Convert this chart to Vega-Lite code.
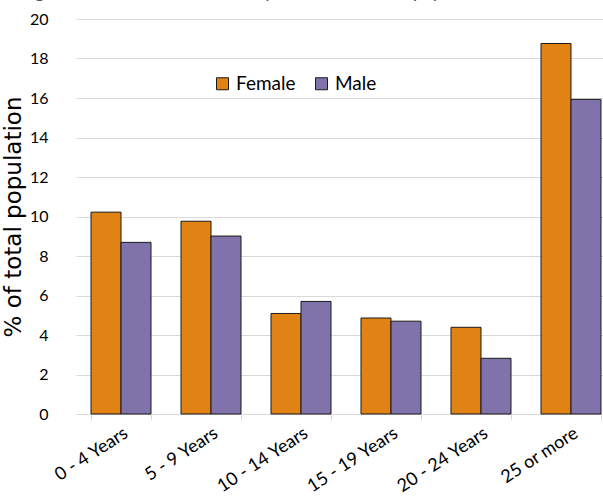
{
  "$schema": "https://vega.github.io/schema/vega-lite/v6.json",
  "width": 527,
  "height": 395,
  "autosize": {"type": "none"},
  "padding": {"left": 76, "top": 19, "right": 0, "bottom": 86},
  "background": "white",
  "title": {
    "text": "Figure 3: Share of children and youth in % of total population",
    "anchor": "start",
    "frame": "group",
    "orient": "top",
    "font": "Lato",
    "fontSize": 19,
    "fontStyle": "italic",
    "fontWeight": "normal",
    "color": "#44546A",
    "dx": -54,
    "dy": -9,
    "offset": 0
  },
  "data": {
    "values": [
      {"age": "0 - 4 Years", "sex": "Female", "pct": 10.22},
      {"age": "0 - 4 Years", "sex": "Male", "pct": 8.69},
      {"age": "5 - 9 Years", "sex": "Female", "pct": 9.76},
      {"age": "5 - 9 Years", "sex": "Male", "pct": 9.01},
      {"age": "10 - 14 Years", "sex": "Female", "pct": 5.09},
      {"age": "10 - 14 Years", "sex": "Male", "pct": 5.7},
      {"age": "15 - 19 Years", "sex": "Female", "pct": 4.86},
      {"age": "15 - 19 Years", "sex": "Male", "pct": 4.7},
      {"age": "20 - 24 Years", "sex": "Female", "pct": 4.39},
      {"age": "20 - 24 Years", "sex": "Male", "pct": 2.82},
      {"age": "25 or more", "sex": "Female", "pct": 18.76},
      {"age": "25 or more", "sex": "Male", "pct": 15.93}
    ]
  },
  "mark": {"type": "bar", "stroke": "#1a1a1a", "strokeWidth": 1},
  "encoding": {
    "x": {
      "field": "age",
      "type": "nominal",
      "sort": null,
      "scale": {"range": [0, 540], "paddingInner": 0.3333, "paddingOuter": 0.1667},
      "axis": {
        "title": null,
        "domainColor": "#D9D9D9",
        "tickColor": "#D9D9D9",
        "tickSize": 6,
        "tickBand": "extent",
        "labelAngle": -33,
        "labelFont": "Lato",
        "labelFontSize": 18,
        "labelColor": "black",
        "labelPadding": 4
      }
    },
    "xOffset": {"field": "sex", "type": "nominal", "sort": ["Female", "Male"]},
    "y": {
      "field": "pct",
      "type": "quantitative",
      "scale": {"domain": [0, 20]},
      "axis": {
        "values": [0, 2, 4, 6, 8, 10, 12, 14, 16, 18, 20],
        "domain": false,
        "ticks": false,
        "gridColor": "#D9D9D9",
        "labelFont": "Lato",
        "labelFontSize": 16,
        "labelColor": "black",
        "labelPadding": 28,
        "title": "% of total population",
        "titleFont": "DejaVu Sans",
        "titleFontSize": 23,
        "titleFontWeight": "normal",
        "titleColor": "black",
        "titlePadding": 4
      }
    },
    "color": {
      "field": "sex",
      "type": "nominal",
      "scale": {"domain": ["Female", "Male"], "range": ["#E08214", "#8073AB"]},
      "legend": {
        "title": null,
        "orient": "none",
        "legendX": 137,
        "legendY": 55,
        "direction": "horizontal",
        "symbolType": "square",
        "symbolSize": 144,
        "symbolStrokeColor": "#1a1a1a",
        "symbolStrokeWidth": 1,
        "labelFont": "Lato",
        "labelFontSize": 19,
        "labelColor": "black",
        "labelOffset": 4,
        "columnPadding": 16,
        "padding": 0
      }
    }
  },
  "config": {"view": {"stroke": null}}
}
